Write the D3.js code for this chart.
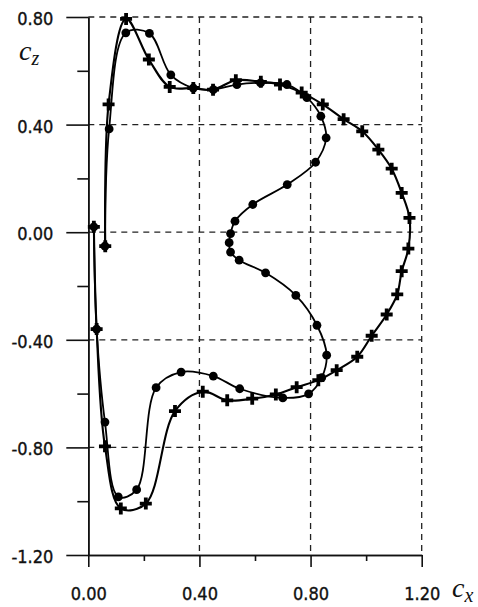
<!DOCTYPE html>
<html><head><meta charset="utf-8">
<script src="https://cdn.jsdelivr.net/npm/d3@7"></script>
<style>
html,body{margin:0;padding:0;background:#fff;}
svg{display:block;}
</style>
</head><body>
<svg id="chart" width="478" height="607"></svg>
<script>
// Series with filled circle markers (cx, cz)
const circleCx = [0.02,0.03,0.06,0.108,0.174,0.244,0.334,0.45,0.545,0.70,0.793,0.84,0.858,0.823,0.747,0.638,0.543,0.512,0.507,0.512,0.528,0.592,0.716,0.818,0.856,0.837,0.787,0.715,0.62,0.535,0.45,0.378,0.297,0.22,0.135,0.075,0.06];
const circleCz = [0.02,-0.36,-0.706,-0.984,-0.957,-0.578,-0.52,-0.535,-0.582,-0.616,-0.601,-0.541,-0.457,-0.346,-0.235,-0.151,-0.104,-0.074,-0.039,-0.005,0.041,0.103,0.177,0.26,0.351,0.431,0.5,0.549,0.555,0.549,0.53,0.536,0.585,0.739,0.741,0.384,-0.052];
// Series with plus markers (cx, cz)
const plusCx = [0.02,0.03,0.06,0.117,0.207,0.312,0.412,0.50,0.59,0.675,0.75,0.828,0.894,0.968,1.02,1.074,1.112,1.128,1.152,1.156,1.128,1.092,1.044,0.986,0.919,0.844,0.768,0.69,0.621,0.531,0.449,0.378,0.293,0.218,0.136,0.073,0.061];
const plusCz = [0.02,-0.36,-0.796,-1.027,-1.009,-0.665,-0.593,-0.625,-0.619,-0.603,-0.576,-0.55,-0.513,-0.463,-0.385,-0.306,-0.231,-0.145,-0.061,0.053,0.146,0.236,0.307,0.375,0.42,0.475,0.519,0.549,0.559,0.565,0.53,0.536,0.54,0.642,0.793,0.475,-0.052];
// Axis ticks
const xMajor = [0, 0.4, 0.8, 1.2];
const xMinor = [0.2, 0.6, 1.0];
const yMajor = [0.8, 0.4, 0, -0.4, -0.8, -1.2];
const yMinor = [0.6, 0.2, -0.2, -0.6, -1.0];
const xLabels = ["0.00", "0.40", "0.80", "1.20"];
const yLabels = ["0.80", "0.40", "0.00", "-0.40", "-0.80", "-1.20"];

const svg = d3.select("#chart");
const x = d3.scaleLinear().domain([0, 1.2]).range([88.3, 421.7]);
const y = d3.scaleLinear().domain([-1.2, 0.8]).range([555, 17]);
const font = "'DejaVu Sans Condensed', 'DejaVu Sans', Verdana, sans-serif";

// dashed grid
const grid = svg.append("g").attr("stroke", "#222").attr("stroke-width", 1.3).attr("stroke-dasharray", "6,5").attr("fill", "none");
grid.selectAll("line.h").data(yMajor.filter(v => v > -1.2)).join("line")
  .attr("x1", x(0)).attr("x2", x(1.2)).attr("y1", d => y(d)).attr("y2", d => y(d));
grid.selectAll("line.v").data(xMajor.filter(v => v > 0)).join("line")
  .attr("y1", y(0.8)).attr("y2", y(-1.2)).attr("x1", d => x(d)).attr("x2", d => x(d));

// axes
function styleAxis(g) {
  g.selectAll("path.domain").attr("stroke", "#111").attr("stroke-width", 1.6);
  g.selectAll(".tick line").attr("stroke", "#111").attr("stroke-width", 1.6);
  g.selectAll("text").attr("font-family", font).attr("font-size", 18).attr("fill", "#111")
    .attr("stroke", "#111").attr("stroke-width", 0.35);
}
const yAx = svg.append("g").attr("transform", `translate(${x(0)},0)`)
  .call(d3.axisLeft(y).tickValues(yMajor).tickSize(22).tickSizeOuter(0).tickPadding(13)
    .tickFormat((d, i) => yLabels[i]));
styleAxis(yAx);
yAx.selectAll("text").attr("dy", "0.42em");
const yMin = svg.append("g").attr("transform", `translate(${x(0)},0)`)
  .call(d3.axisLeft(y).tickValues(yMinor).tickSize(11).tickSizeOuter(0).tickFormat(""));
styleAxis(yMin);

const xAx = svg.append("g").attr("transform", `translate(0,${y(-1.2)})`)
  .call(d3.axisBottom(x).tickValues(xMajor).tickSize(12).tickSizeOuter(0)
    .tickFormat((d, i) => xLabels[i]));
styleAxis(xAx);
xAx.selectAll("text").attr("y", 45).attr("dy", 0);
const xMin = svg.append("g").attr("transform", `translate(0,${y(-1.2)})`)
  .call(d3.axisBottom(x).tickValues(xMinor).tickSize(6).tickSizeOuter(0).tickFormat(""));
styleAxis(xMin);

// axis titles
const ty = svg.append("text").attr("x", 19).attr("y", 60).attr("font-family", "'Liberation Serif', 'Times New Roman', serif")
  .attr("font-style", "italic").attr("fill", "#111");
ty.append("tspan").attr("font-size", 28).text("c");
ty.append("tspan").attr("font-size", 20).attr("dy", 5).text("z");
const tx = svg.append("text").attr("x", 452).attr("y", 597).attr("font-family", "'Liberation Serif', 'Times New Roman', serif")
  .attr("font-style", "italic").attr("fill", "#111");
tx.append("tspan").attr("font-size", 28).text("c");
tx.append("tspan").attr("font-size", 20).attr("dy", 5).text("x");

// lines
const line = d3.line().x(d => x(d[0])).y(d => y(d[1])).curve(d3.curveCatmullRom.alpha(0.5));
const circleData = circleCx.map((v, i) => [v, circleCz[i]]);
const plusData = plusCx.map((v, i) => [v, plusCz[i]]);
svg.append("path").datum(circleData).attr("d", line).attr("fill", "none").attr("stroke", "#000").attr("stroke-width", 1.8);
svg.append("path").datum(plusData).attr("d", line).attr("fill", "none").attr("stroke", "#000").attr("stroke-width", 2.1);

// markers
svg.append("g").selectAll("circle").data(circleData).join("circle")
  .attr("cx", d => x(d[0])).attr("cy", d => y(d[1])).attr("r", 4.4).attr("fill", "#000");
const pa = 6;
svg.append("g").selectAll("path").data(plusData).join("path")
  .attr("d", d => { const px = x(d[0]), py = y(d[1]); return `M${px - pa},${py}H${px + pa}M${px},${py - pa}V${py + pa}`; })
  .attr("stroke", "#000").attr("stroke-width", 3.8).attr("fill", "none");
</script>
</body></html>
